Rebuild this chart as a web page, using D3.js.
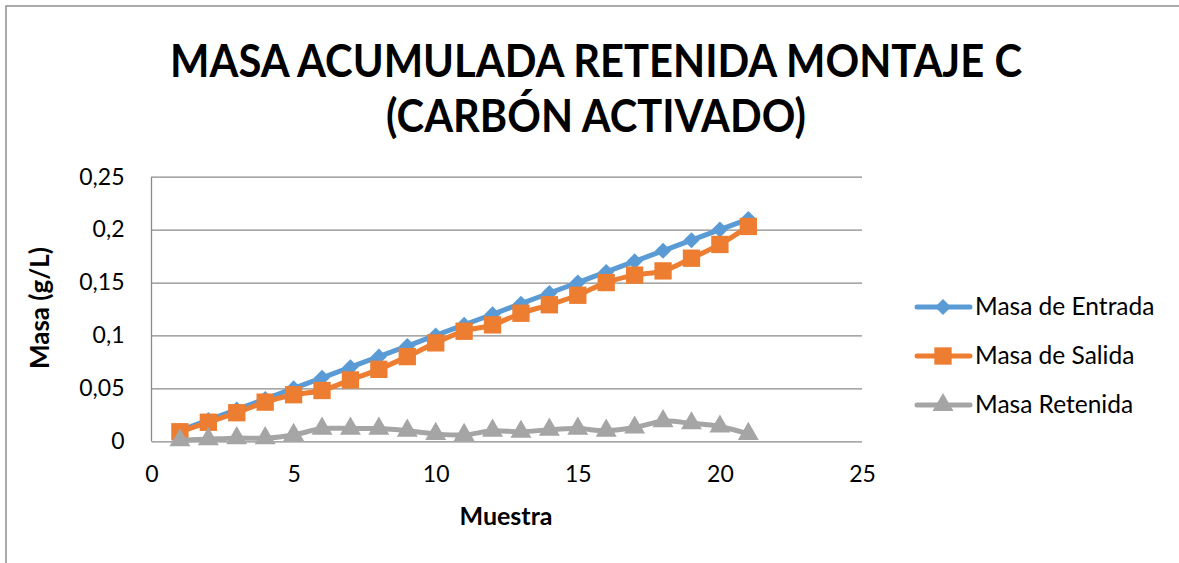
<!DOCTYPE html>
<html>
<head>
<meta charset="utf-8">
<script src="https://cdn.jsdelivr.net/npm/d3@7/dist/d3.min.js"></script>
<style>
  html, body { margin: 0; padding: 0; background: #fff; }
  svg { display: block; font-family: Lato, "Open Sans", sans-serif; }
</style>
</head>
<body>
<svg id="chart" width="1179" height="563"></svg>
<script>
// Sample number on the x axis
const muestras = [1, 2, 3, 4, 5, 6, 7, 8, 9, 10, 11, 12, 13, 14, 15, 16, 17, 18, 19, 20, 21];

// Cumulative mass (g/L) per sample
const masaEntrada = [0.010, 0.020, 0.030, 0.040, 0.050, 0.060, 0.070, 0.080, 0.090, 0.100, 0.110,
                     0.120, 0.130, 0.140, 0.150, 0.160, 0.170, 0.180, 0.190, 0.200, 0.210];
const masaSalida = [0.009, 0.018, 0.027, 0.037, 0.044, 0.048, 0.058, 0.068, 0.080, 0.093, 0.104,
                    0.110, 0.121, 0.129, 0.138, 0.150, 0.157, 0.161, 0.173, 0.186, 0.203];
const masaRetenida = [0.001, 0.002, 0.003, 0.003, 0.006, 0.012, 0.012, 0.012, 0.010, 0.007, 0.006,
                      0.010, 0.009, 0.011, 0.012, 0.010, 0.013, 0.019, 0.017, 0.014, 0.007];

const seriesNames = ["Masa de Entrada", "Masa de Salida", "Masa Retenida"];
const xTicks = [0, 5, 10, 15, 20, 25];
const yTicks = [0, 0.05, 0.1, 0.15, 0.2, 0.25];

const titleLines = ["MASA ACUMULADA RETENIDA MONTAJE C", "(CARBÓN ACTIVADO)"];
const xTitle = "Muestra";
const yTitle = "Masa (g/L)";

const colors = ["#5B9BD5", "#ED7D31", "#A5A5A5"];

// square rotated 45°: equal width and height
const symbolRhombus = {
  draw(context, size) {
    const r = Math.sqrt(size / 2);
    context.moveTo(0, -r);
    context.lineTo(r, 0);
    context.lineTo(0, r);
    context.lineTo(-r, 0);
    context.closePath();
  }
};
const symbols = [symbolRhombus, d3.symbolSquare, d3.symbolTriangle];

const svg = d3.select("#chart");
const W = 1179, H = 563;

// chart-area frame
svg.append("rect")
  .attr("x", 6).attr("y", 6)
  .attr("width", W + 20).attr("height", H + 20)
  .attr("fill", "#fff")
  .attr("stroke", "#8e8e8e").attr("stroke-width", 1.5);

const plot = { left: 151.5, right: 862, top: 176.7, bottom: 441.3 };

const x = d3.scaleLinear().domain([0, 25]).range([plot.left, plot.right]);
const y = d3.scaleLinear().domain([0, 0.25]).range([plot.bottom, plot.top]);

const fmt = d => d3.format("")(d).replace(".", ",");

// horizontal gridlines
const yAxis = d3.axisLeft(y).tickValues(yTicks).tickSize(-(plot.right - plot.left)).tickPadding(27).tickFormat(fmt);
const gy = svg.append("g").attr("transform", `translate(${plot.left},0)`).call(yAxis);
gy.select(".domain").remove();
gy.selectAll(".tick line").attr("stroke", "#8a8a8a").attr("stroke-width", 1.3);
gy.selectAll(".tick text")
  .attr("font-family", "Lato, sans-serif").attr("font-size", 23).attr("fill", "#000");

// vertical axis line
svg.append("line")
  .attr("x1", plot.left).attr("x2", plot.left)
  .attr("y1", plot.top).attr("y2", plot.bottom)
  .attr("stroke", "#8a8a8a").attr("stroke-width", 1.3);

// x axis labels
const xAxis = d3.axisBottom(x).tickValues(xTicks).tickSize(0).tickPadding(24).tickFormat(d3.format("d"));
const gx = svg.append("g").attr("transform", `translate(0,${plot.bottom})`).call(xAxis);
gx.select(".domain").remove();
gx.selectAll(".tick text")
  .attr("font-family", "Lato, sans-serif").attr("font-size", 23).attr("fill", "#000");

// titles (two centred lines)
const titleWidths = [852, 420];
svg.selectAll("text.title").data(titleLines).join("text")
  .attr("class", "title")
  .attr("x", 596).attr("y", (d, i) => 77 + i * 55)
  .attr("text-anchor", "middle")
  .attr("font-family", "Lato, sans-serif").attr("font-weight", 700).attr("font-size", 46)
  .attr("textLength", (d, i) => titleWidths[i])
  .attr("lengthAdjust", "spacingAndGlyphs")
  .attr("fill", "#000")
  .text(d => d);

svg.append("text")
  .attr("x", 506).attr("y", 525)
  .attr("text-anchor", "middle")
  .attr("font-family", "Lato, sans-serif").attr("font-weight", 700).attr("font-size", 25)
  .text(xTitle);

svg.append("text")
  .attr("transform", `translate(49,308) rotate(-90)`)
  .attr("text-anchor", "middle")
  .attr("font-family", "Lato, sans-serif").attr("font-weight", 700).attr("font-size", 26)
  .text(yTitle);

// series
const seriesData = [masaEntrada, masaSalida, masaRetenida];
const line = d3.line()
  .x((d, i) => x(muestras[i]))
  .y(d => y(d))
  .curve(d3.curveCatmullRom.alpha(0.5));

const symbolSizes = [130, 300, 190];

seriesData.forEach((vals, s) => {
  const g = svg.append("g");
  g.append("path")
    .attr("d", line(vals))
    .attr("fill", "none")
    .attr("stroke", colors[s])
    .attr("stroke-width", 5)
    .attr("stroke-linejoin", "round")
    .attr("stroke-linecap", "round");
  g.selectAll("path.mk").data(vals).join("path")
    .attr("class", "mk")
    .attr("transform", (d, i) => `translate(${x(muestras[i])},${y(d)})`)
    .attr("d", d3.symbol().type(symbols[s]).size(symbolSizes[s]))
    .attr("fill", colors[s]);
});

// legend
const legend = svg.append("g");
seriesNames.forEach((name, s) => {
  const ly = 307 + s * 49;
  legend.append("line")
    .attr("x1", 917).attr("x2", 970).attr("y1", ly).attr("y2", ly)
    .attr("stroke", colors[s]).attr("stroke-width", 5).attr("stroke-linecap", "round");
  legend.append("path")
    .attr("transform", `translate(943,${ly})`)
    .attr("d", d3.symbol().type(symbols[s]).size(symbolSizes[s]))
    .attr("fill", colors[s]);
  legend.append("text")
    .attr("x", 975).attr("y", ly + 8)
    .attr("font-family", "Lato, sans-serif").attr("font-size", 24.5)
    .text(name);
});
</script>
</body>
</html>
